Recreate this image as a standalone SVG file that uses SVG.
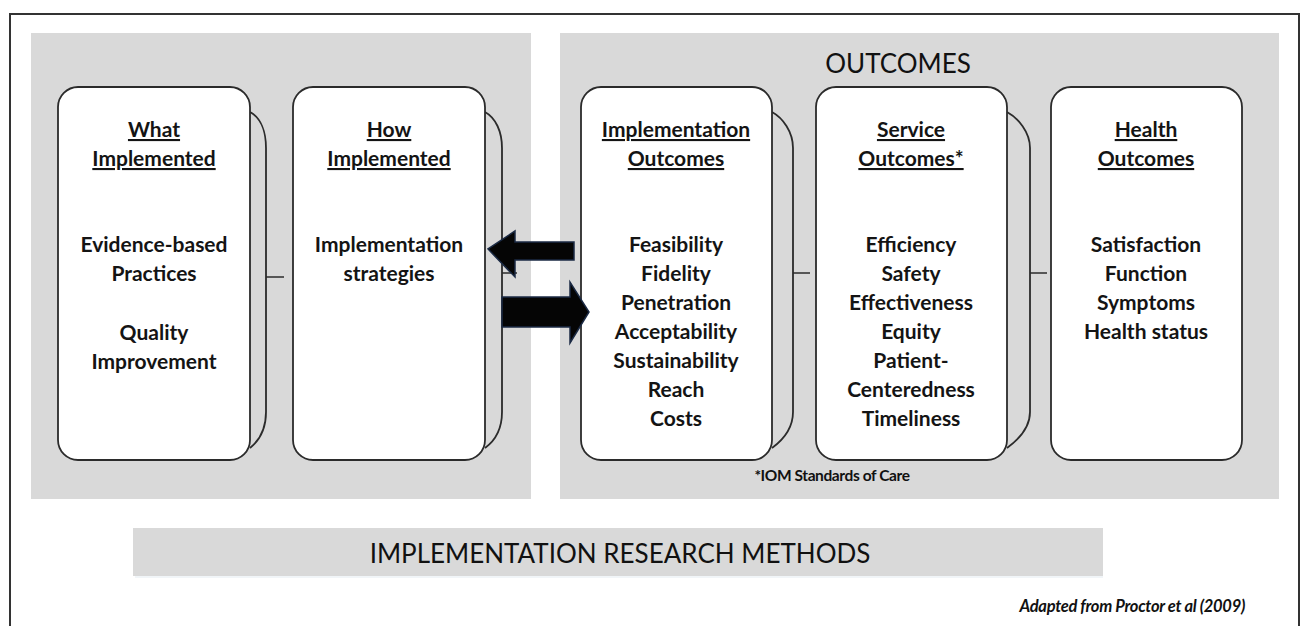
<svg xmlns="http://www.w3.org/2000/svg" width="1302" height="626" viewBox="0 0 1302 626">
<style>
.panel{fill:#d9d9d9}
.box{fill:#fff;stroke:#2b2b2b;stroke-width:1.8}
.back{fill:none;stroke:#2b2b2b;stroke-width:1.8}
.tick{stroke:#2b2b2b;stroke-width:1.5}
.t{font-family:Lato,"Open Sans","Liberation Sans",sans-serif;font-weight:bold;font-size:21px;fill:#141414;text-anchor:middle}
.h{text-decoration:underline}
.arrow{fill:#050505;stroke:#1b2a44;stroke-width:1.5}
</style>
<rect x="10" y="14" width="1289" height="640" fill="#fff" stroke="#333" stroke-width="2"/>
<rect class="panel" x="31" y="33" width="500" height="466"/>
<rect class="panel" x="560" y="33" width="719" height="466"/>
<text x="898" y="73" font-family="Lato,'Open Sans','Liberation Sans',sans-serif" font-size="26" fill="#111" text-anchor="middle">OUTCOMES</text>

<g id="what">
<path class="back" d="M250,112 C261,118 266,132 266,148 L266,412 C266,428 260,440 250,448"/>
<rect class="box" x="58" y="87" width="192" height="373" rx="20"/>
<text class="t h" x="154" y="137">What</text>
<text class="t h" x="154" y="166">Implemented</text>
<text class="t" x="154" y="252">Evidence-based</text>
<text class="t" x="154" y="281">Practices</text>
<text class="t" x="154" y="340">Quality</text>
<text class="t" x="154" y="369">Improvement</text>
</g>
<g id="how">
<path class="back" d="M485,112 C496,118 502,132 502,148 L502,412 C502,428 496,440 485,448"/>
<rect class="box" x="293" y="87" width="192" height="373" rx="20"/>
<text class="t h" x="389" y="137">How</text>
<text class="t h" x="389" y="166">Implemented</text>
<text class="t" x="389" y="252">Implementation</text>
<text class="t" x="389" y="281">strategies</text>
</g>
<g id="impl">
<path class="back" d="M772,112 C783,118 793,132 793,148 L793,412 C793,428 783,440 772,448"/>
<rect class="box" x="581" y="87" width="191" height="373" rx="20"/>
<text class="t h" x="676" y="137">Implementation</text>
<text class="t h" x="676" y="166">Outcomes</text>
<text class="t" x="676" y="252">Feasibility</text>
<text class="t" x="676" y="281">Fidelity</text>
<text class="t" x="676" y="310">Penetration</text>
<text class="t" x="676" y="339">Acceptability</text>
<text class="t" x="676" y="368">Sustainability</text>
<text class="t" x="676" y="397">Reach</text>
<text class="t" x="676" y="426">Costs</text>
</g>
<g id="service">
<path class="back" d="M1007,112 C1018,118 1030,132 1030,148 L1030,412 C1030,428 1018,440 1007,448"/>
<rect class="box" x="816" y="87" width="191" height="373" rx="20"/>
<text class="t h" x="911" y="137">Service</text>
<text class="t h" x="911" y="166">Outcomes*</text>
<text class="t" x="911" y="252">Efficiency</text>
<text class="t" x="911" y="281">Safety</text>
<text class="t" x="911" y="310">Effectiveness</text>
<text class="t" x="911" y="339">Equity</text>
<text class="t" x="911" y="368">Patient-</text>
<text class="t" x="911" y="397">Centeredness</text>
<text class="t" x="911" y="426">Timeliness</text>
</g>
<g id="health">
<rect class="box" x="1051" y="87" width="191" height="373" rx="20"/>
<text class="t h" x="1146" y="137">Health</text>
<text class="t h" x="1146" y="166">Outcomes</text>
<text class="t" x="1146" y="252">Satisfaction</text>
<text class="t" x="1146" y="281">Function</text>
<text class="t" x="1146" y="310">Symptoms</text>
<text class="t" x="1146" y="339">Health status</text>
</g>
<text x="832" y="481" font-family="Lato,'Open Sans','Liberation Sans',sans-serif" font-weight="bold" font-size="15.5" letter-spacing="-0.4" fill="#111" text-anchor="middle">*IOM Standards of Care</text>

<g id="connectors">
<line class="tick" x1="266" y1="277" x2="284" y2="277"/>
<line class="tick" x1="502" y1="273" x2="517" y2="273"/>
<line class="tick" x1="793" y1="273" x2="810" y2="273"/>
<line class="tick" x1="1030" y1="273" x2="1047" y2="273"/>
<path class="arrow" d="M574,242 L515,242 L515,231 L488,249 L515,277 L515,260 L574,260 Z"/>
<path class="arrow" d="M502,297 L570,297 L570,282 L589,312 L570,343 L570,327 L502,327 Z"/>
</g>

<g id="methods">
<rect x="135" y="530" width="968" height="48" fill="#e8eef4" opacity="0.6"/>
<rect x="133" y="528" width="970" height="48" fill="#d9d9d9"/>
<text x="620" y="563" font-family="Lato,'Open Sans','Liberation Sans',sans-serif" font-size="26" fill="#111" text-anchor="middle">IMPLEMENTATION RESEARCH METHODS</text>
</g>
<text x="1245" y="612" font-family="Lato,'Open Sans','Liberation Sans',sans-serif" font-weight="bold" font-style="italic" font-size="16.5" letter-spacing="-0.3" fill="#111" text-anchor="end">Adapted from Proctor et al (2009)</text>
</svg>
